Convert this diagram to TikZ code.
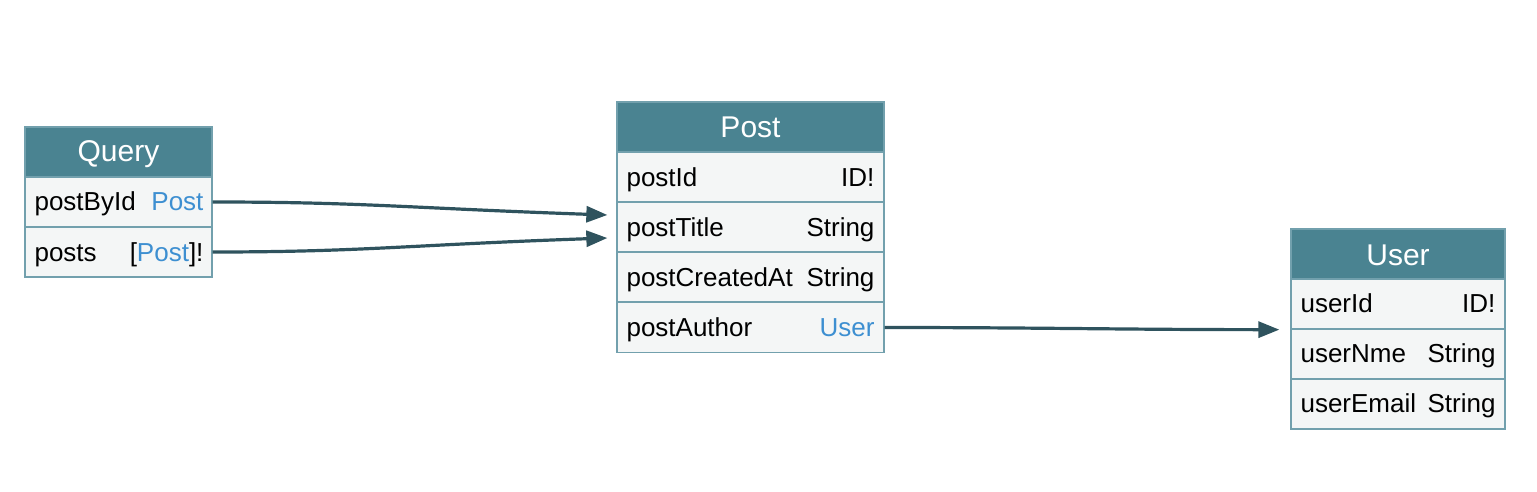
\documentclass[tikz,border=0pt]{standalone}
\usepackage{fontspec}
\setmainfont{Liberation Sans}
\usetikzlibrary{arrows.meta,calc}
\definecolor{hdrc}{HTML}{4A8391}
\definecolor{rowc}{HTML}{F4F6F6}
\definecolor{bordc}{HTML}{72A0AD}
\definecolor{edgec}{HTML}{2F535E}
\definecolor{bluec}{HTML}{3D8FD1}
\tikzset{
  hdr/.style={draw=bordc, fill=hdrc, line width=1.3pt, inner sep=0pt, minimum height=50pt},
  hdrtxt/.style={anchor=base, inner sep=0pt, text=white, font=\fontsize{30}{32}\selectfont},
  rowbox/.style={draw=bordc, fill=rowc, line width=1.3pt, inner sep=0pt, minimum height=50pt},
  lab/.style={anchor=base west, inner sep=0pt, font=\fontsize{26}{28}\selectfont},
  typ/.style={anchor=base east, inner sep=0pt, font=\fontsize{26}{28}\selectfont},
  conn/.style={draw=edgec, line width=3.2pt, -{Triangle[length=21pt,width=16pt]}},
}
\begin{document}
\begin{tikzpicture}[x=1pt,y=-1pt]
\useasboundingbox (0,0) rectangle (1537,492);
% Query
\node[hdr, minimum width=187pt] (qh) at (118.5,152) {};
\node[hdrtxt] (qht) at ($(qh.center)+(0,10)$) {Query};
\node[rowbox, minimum width=187pt] (q1) at (118.5,202) {};
\node[rowbox, minimum width=187pt] (q2) at (118.5,252) {};
\node[lab] (q1l) at ($(q1.west)+(10,9)$) {postById};
\node[typ, text=bluec] (q1t) at ($(q1.east)+(-9,9)$) {Post};
\node[lab] (q2l) at ($(q2.west)+(10,9)$) {posts};
\node[typ] (q2t) at ($(q2.east)+(-9,9)$) {[\textcolor{bluec}{Post}]!};
% Post
\node[hdr, minimum width=267pt] (ph) at (750.5,127) {};
\node[hdrtxt] (pht) at ($(ph.center)+(0,11)$) {Post};
\node[rowbox, minimum width=267pt] (p1) at (750.5,177) {};
\node[rowbox, minimum width=267pt] (p2) at (750.5,227) {};
\node[rowbox, minimum width=267pt] (p3) at (750.5,277) {};
\node[rowbox, minimum width=267pt] (p4) at (750.5,327.5) {};
\node[lab] (p1l) at ($(p1.west)+(10,9)$) {postId};
\node[typ] (p1t) at ($(p1.east)+(-10,9)$) {ID!};
\node[lab] (p2l) at ($(p2.west)+(10,9)$) {postTitle};
\node[typ] (p2t) at ($(p2.east)+(-10,9)$) {String};
\node[lab] (p3l) at ($(p3.west)+(10,9)$) {postCreatedAt};
\node[typ] (p3t) at ($(p3.east)+(-10,9)$) {String};
\node[lab] (p4l) at ($(p4.west)+(10,9)$) {postAuthor};
\node[typ, text=bluec] (p4t) at ($(p4.east)+(-10,9)$) {User};
% User
\node[hdr, minimum width=214pt] (uh) at (1398,254) {};
\node[hdrtxt] (uht) at ($(uh.center)+(0,11)$) {User};
\node[rowbox, minimum width=214pt] (u1) at (1398,304) {};
\node[rowbox, minimum width=214pt] (u2) at (1398,354) {};
\node[rowbox, minimum width=214pt] (u3) at (1398,404) {};
\node[lab] (u1l) at ($(u1.west)+(10,8.5)$) {userId};
\node[typ] (u1t) at ($(u1.east)+(-10,8.5)$) {ID!};
\node[lab] (u2l) at ($(u2.west)+(10,8.5)$) {userNme};
\node[typ] (u2t) at ($(u2.east)+(-10,8.5)$) {String};
\node[lab] (u3l) at ($(u3.west)+(10,8.5)$) {userEmail};
\node[typ] (u3t) at ($(u3.east)+(-10,8.5)$) {String};
% connector ends
\coordinate (e1) at ($(p2.west)+(-9,-12)$);
\coordinate (e2) at ($(p2.west)+(-9,11)$);
\coordinate (e3) at ($(u1.south west)+(-11,0)$);
% connectors
\draw[conn] (q1.east) .. controls ($(q1.east)+(150,0)$) and ($(e1)+(-200,-7)$) .. (e1);
\draw[conn] (q2.east) .. controls ($(q2.east)+(150,0)$) and ($(e2)+(-200,7)$) .. (e2);
\draw[conn] (p4.east) .. controls ($(p4.east)+(150,0)$) and ($(e3)+(-150,0)$) .. (e3);
\end{tikzpicture}
\end{document}
